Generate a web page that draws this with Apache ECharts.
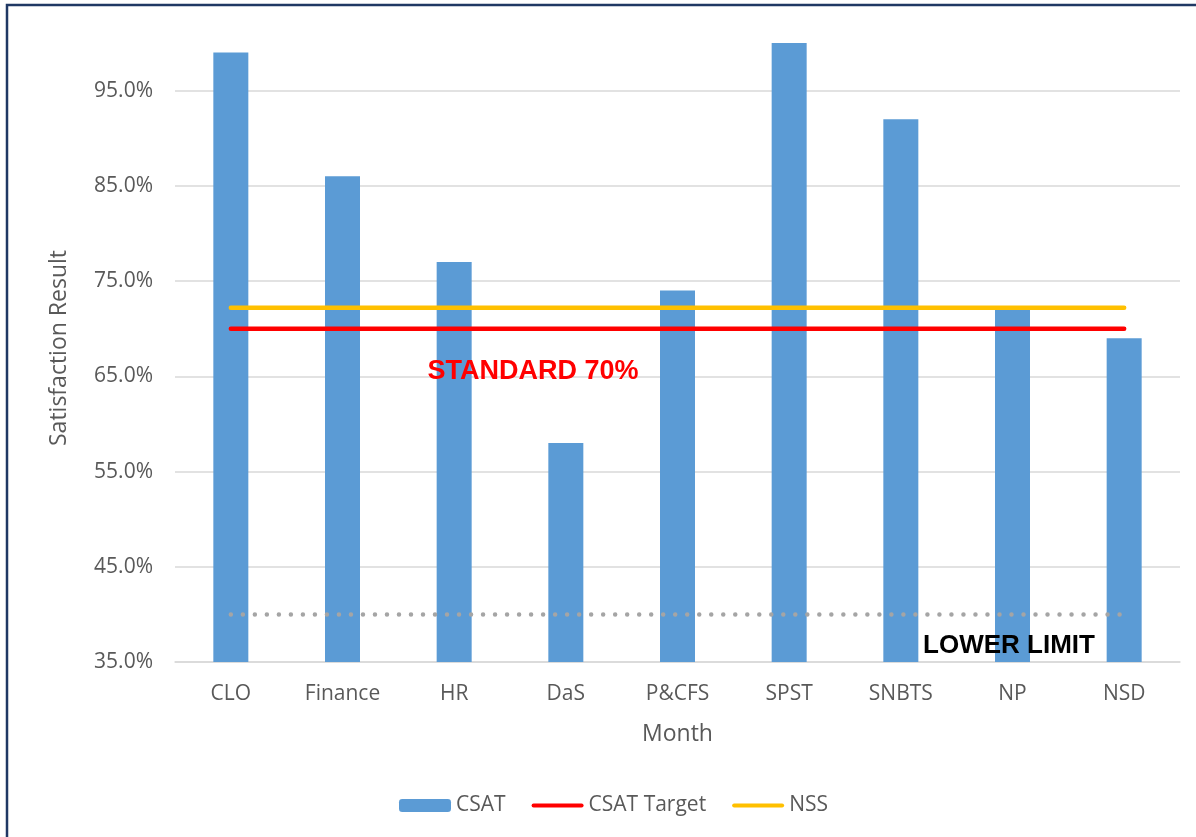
<!DOCTYPE html>
<html>
<head>
<meta charset="utf-8">
<style>
  html, body { margin: 0; padding: 0; background: #ffffff; }
  #chart { width: 1196px; height: 837px; }
</style>
<script src="https://cdn.jsdelivr.net/npm/echarts@6/dist/echarts.min.js"></script>
</head>
<body>
<div id="chart"></div>
<script>
// Departments on the category axis
const categories = ['CLO', 'Finance', 'HR', 'DaS', 'P&CFS', 'SPST', 'SNBTS', 'NP', 'NSD'];
// Satisfaction results (%)
const csat = [99, 86, 77, 58, 74, 100, 92, 72, 69];
const csatTarget = [70, 70, 70, 70, 70, 70, 70, 70, 70];
const nss = [72.2, 72.2, 72.2, 72.2, 72.2, 72.2, 72.2, 72.2, 72.2];
const lowerLimit = [40, 40, 40, 40, 40, 40, 40, 40, 40];

const FONT = '"Open Sans", "DejaVu Sans", sans-serif';
const TEXT = '#595959';
const GRID = '#D9D9D9';
// thin rounded bar used as the legend mark of the line series
const LINE_ICON = 'path://M2,0 H50 A2,2 0 0 1 50,4 H2 A2,2 0 0 1 2,0 Z';

// ticks run 35..95 every 10, plus the axis max (100) which gets no gridline
const splitColors = [GRID, GRID, GRID, GRID, GRID, GRID, GRID, 'rgba(0,0,0,0)'];

const chart = echarts.init(document.getElementById('chart'), null, { renderer: 'canvas' });

chart.setOption({
  animation: false,
  backgroundColor: '#ffffff',
  textStyle: { fontFamily: FONT },
  grid: { left: 175, right: 16, top: 43, bottom: 175, containLabel: false },
  legend: {
    left: 394,
    top: 790,
    itemWidth: 52,
    itemHeight: 13,
    itemGap: 26,
    textStyle: { fontFamily: FONT, fontSize: 21, color: TEXT },
    data: [
      { name: 'CSAT' },
      { name: 'CSAT Target', icon: LINE_ICON, itemStyle: { color: '#FF0000' } },
      { name: 'NSS', icon: LINE_ICON, itemStyle: { color: '#FFC000' } }
    ]
  },
  xAxis: {
    type: 'category',
    data: categories,
    name: 'Month',
    nameLocation: 'middle',
    nameGap: 61,
    nameTextStyle: { fontFamily: FONT, fontSize: 23, color: TEXT },
    axisLine: { lineStyle: { color: GRID, width: 1.5 } },
    axisTick: { show: false },
    axisLabel: { fontFamily: FONT, fontSize: 21, color: TEXT, margin: 22 }
  },
  yAxis: {
    type: 'value',
    min: 35,
    max: 100,
    interval: 10,
    name: 'Satisfaction Result',
    nameLocation: 'middle',
    nameRotate: 90,
    nameGap: 104,
    nameTextStyle: { fontFamily: FONT, fontSize: 23, color: TEXT, padding: [0, 0, 0, 9] },
    axisLine: { show: false },
    axisTick: { show: false },
    splitLine: { lineStyle: { color: splitColors, width: 1.5 } },
    axisLabel: {
      fontFamily: FONT, fontSize: 21, color: TEXT, margin: 22,
      showMaxLabel: false,
      formatter: v => v.toFixed(1) + '%'
    }
  },
  series: [
    {
      name: 'CSAT',
      type: 'bar',
      data: csat,
      barWidth: 35,
      itemStyle: { color: '#5B9BD5' },
      z: 2
    },
    {
      name: 'Lower Limit',
      type: 'line',
      data: lowerLimit,
      symbol: 'none',
      lineStyle: { color: '#A5A5A5', width: 4.5, type: [0.01, 12], cap: 'round' },
      z: 3
    },
    {
      name: 'CSAT Target',
      type: 'line',
      data: csatTarget,
      symbol: 'none',
      lineStyle: { color: '#FF0000', width: 4.5, cap: 'round' },
      itemStyle: { color: '#FF0000' },
      z: 4
    },
    {
      name: 'NSS',
      type: 'line',
      data: nss,
      symbol: 'none',
      lineStyle: { color: '#FFC000', width: 4.5, cap: 'round' },
      itemStyle: { color: '#FFC000' },
      z: 4
    }
  ],
  graphic: [
    {
      type: 'rect',
      x: 7, y: 5,
      shape: { width: 1200, height: 850 },
      style: { fill: 'none', stroke: '#203864', lineWidth: 2.5 },
      silent: true, z: 100
    },
    {
      type: 'text',
      x: 533, y: 372,
      style: {
        text: 'STANDARD 70%',
        font: 'bold 27px "Liberation Sans", Arial, sans-serif',
        fill: '#FF0000',
        align: 'center', verticalAlign: 'middle'
      },
      z: 50
    },
    {
      type: 'text',
      x: 1009, y: 646,
      style: {
        text: 'LOWER LIMIT',
        font: 'bold 26px "Liberation Sans", Arial, sans-serif',
        fill: '#000000',
        align: 'center', verticalAlign: 'middle'
      },
      z: 50
    }
  ]
});
</script>
</body>
</html>
